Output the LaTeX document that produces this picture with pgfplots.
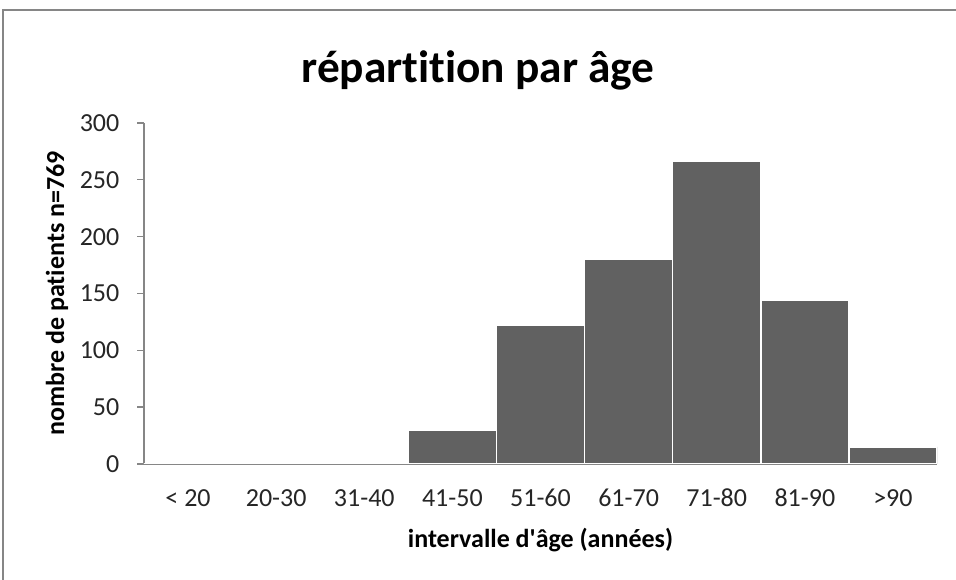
\documentclass[border=0pt]{standalone}
\usepackage{pgfplots}
\pgfplotsset{compat=1.18}
\usepackage{fontspec}
\setmainfont[Ligatures=NoCommon]{Carlito}
\definecolor{barfill}{RGB}{97,97,97}
\definecolor{axisgray}{RGB}{134,134,134}
\begin{document}
\begin{tikzpicture}
\path[use as bounding box] (0pt,0pt) rectangle (717pt,435pt);
\fill[white] (0pt,0pt) rectangle (717pt,435pt);
\draw[axisgray, line width=1.5pt] (2.25pt,-5pt) -- (2.25pt,427.5pt) -- (725pt,427.5pt);
\node[anchor=base, font=\bfseries\fontsize{34}{40}\selectfont] at (358.5pt,373pt) {répartition par âge};
\begin{axis}[
  at={(108pt,87pt)}, anchor=south west,
  scale only axis, width=594.75pt, height=255.75pt,
  xmin=-0.5, xmax=8.5, ymin=0, ymax=300,
  ytick={0,50,...,300},
  xtick={0,...,8},
  xticklabels={< 20,20-30,31-40,41-50,51-60,61-70,71-80,81-90,>90},
  axis x line*=bottom, axis y line*=left,
  axis line style={axisgray, line width=1pt},
  x tick style={draw=none},
  y tick style={axisgray, line width=1pt},
  tick align=outside, major tick length=5pt,
  ticklabel style={font=\fontsize{19.5}{23}\selectfont, text=black!85},
  /pgf/number format/assume math mode=true,
  xticklabel style={anchor=base, yshift=-27pt},
  yticklabel style={anchor=east, xshift=-10pt},
  xlabel={intervalle d\textquotesingle âge (années)},
  ylabel={nombre de patients n=769},
  label style={font=\bfseries\fontsize{19.5}{23}\selectfont},
  xlabel style={at={(axis description cs:0.5,-0.2229)}, anchor=center},
  ylabel style={at={(axis description cs:-0.1097,0.5)}, anchor=center},
  ybar, bar width=1, bar shift=0,
]
\addplot[fill=barfill, draw=white, line width=1.2pt] coordinates {
  (0,0) (1,1) (2,1) (3,30) (4,122) (5,180) (6,266) (7,144) (8,15)
};
\end{axis}
\end{tikzpicture}
\end{document}
